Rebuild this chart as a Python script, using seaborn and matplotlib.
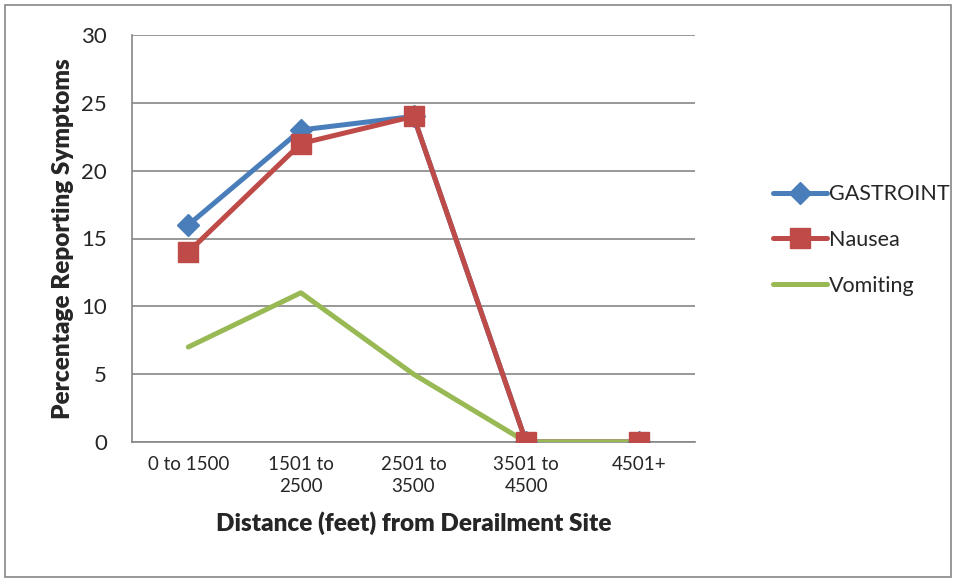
import numpy as np
import pandas as pd
import matplotlib
matplotlib.use("Agg")
import matplotlib.pyplot as plt
from matplotlib.lines import Line2D
from matplotlib.patches import Rectangle
import seaborn as sns

# data
categories = ["0 to 1500", "1501 to\n2500", "2501 to\n3500", "3501 to\n4500", "4501+"]
gastroint = [16, 23, 24, 0, 0]
nausea = [14, 22, 24, 0, 0]
vomiting = [7, 11, 5, 0, 0]

sns.set_style("white")
plt.rcParams["font.family"] = ["Lato", "DejaVu Sans"]

colors = {"GASTROINT": "#4A7EBB", "Nausea": "#BE4B48", "Vomiting": "#98B954"}
markers = {"GASTROINT": "D", "Nausea": "s", "Vomiting": None}
msize = {"GASTROINT": 11, "Nausea": 14, "Vomiting": 0}

df = pd.DataFrame({
    "pos": np.tile(np.arange(len(categories)), 3),
    "value": gastroint + nausea + vomiting,
    "series": ["GASTROINT"] * 5 + ["Nausea"] * 5 + ["Vomiting"] * 5,
})

fig = plt.figure(figsize=(9.56, 5.81), dpi=100)
ax = fig.add_axes([132 / 956, 1 - 442 / 581, (695 - 132) / 956, (442 - 35) / 581])

# lines first, markers drawn on top afterwards
for i, name in enumerate(["GASTROINT", "Nausea", "Vomiting"]):
    sub = df[df.series == name]
    sns.lineplot(data=sub, x="pos", y="value", ax=ax, color=colors[name],
                 linewidth=3.6, legend=False, zorder=3 + i)
for name in ["GASTROINT", "Nausea"]:
    sub = df[df.series == name]
    ax.plot(sub["pos"], sub["value"], linestyle="none", marker=markers[name],
            markersize=msize[name], color=colors[name], zorder=10)

ax.set_xlim(-0.5, len(categories) - 0.5)
ax.set_ylim(0, 30)
ax.set_yticks(np.arange(0, 31, 5))
ax.set_xticks(np.arange(len(categories)))
ax.set_xticklabels(categories, fontsize=13.5, linespacing=1.35)
ax.set_xticks(np.arange(-0.5, len(categories), 1), minor=True)
ax.tick_params(axis="x", which="major", length=0, pad=10)
ax.tick_params(axis="x", which="minor", length=7, width=1.2, color="#868686", direction="out")
ax.tick_params(axis="y", length=8, width=1.2, color="#868686", direction="out", labelsize=16, pad=10)
ax.grid(axis="y", color="#868686", linewidth=1.2)
ax.set_axisbelow(True)
for s in ["top", "right"]:
    ax.spines[s].set_visible(False)
for s in ["left", "bottom"]:
    ax.spines[s].set_color("#868686")
    ax.spines[s].set_linewidth(1.2)

ax.set_xlabel("Distance (feet) from Derailment Site", fontsize=17.5, fontweight="heavy", labelpad=12)
ax.set_ylabel("Percentage Reporting Symptoms", fontsize=17.5, fontweight="heavy", labelpad=5)

handles = [Line2D([], [], color=colors[n], linewidth=3.6, marker=markers[n],
                  markersize=msize[n]) for n in ["GASTROINT", "Nausea", "Vomiting"]]
fig.legend(handles, ["GASTROINT", "Nausea", "Vomiting"], loc="center left",
           bbox_to_anchor=(773 / 956, 1 - 240 / 581), frameon=False, fontsize=15.5,
           handlelength=2.5, handletextpad=0.1, labelspacing=1.2, borderaxespad=0, borderpad=0)

fig.patches.append(Rectangle((5 / 956, 4 / 581), 946 / 956, 572 / 581, transform=fig.transFigure,
                             fill=False, edgecolor="#868686", linewidth=1.2))

fig.savefig("out.png", dpi=100)
